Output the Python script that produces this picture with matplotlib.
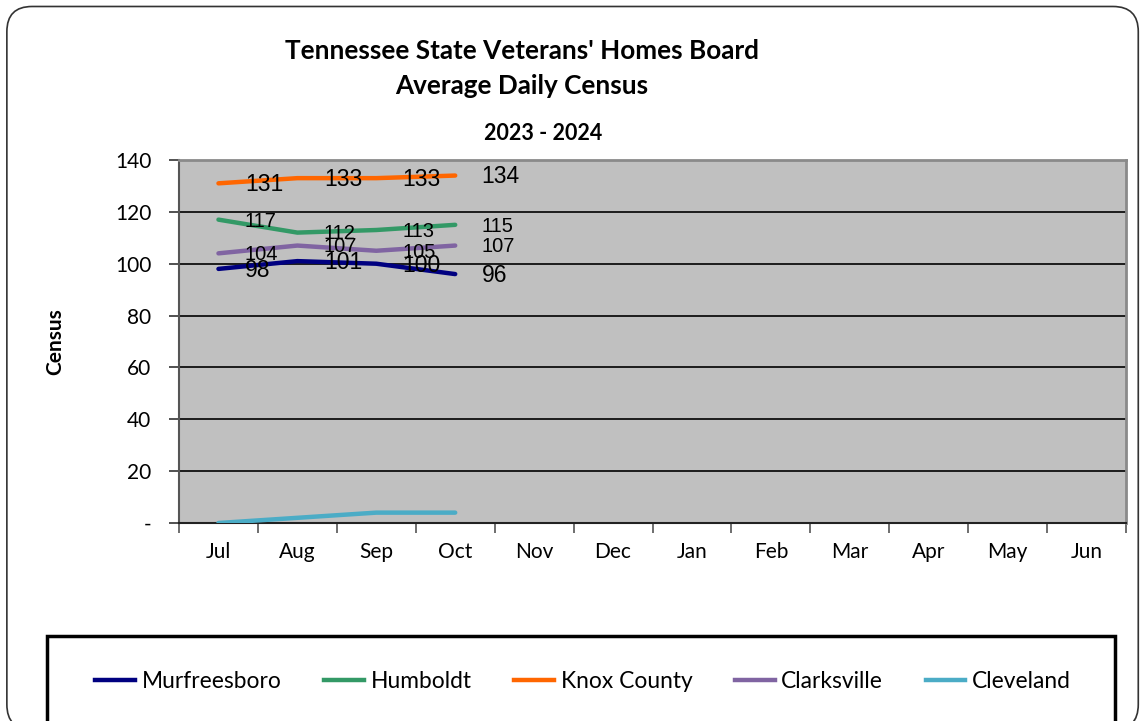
import matplotlib
matplotlib.use("Agg")
import matplotlib.pyplot as plt
from matplotlib.patches import FancyBboxPatch, Rectangle
from matplotlib.lines import Line2D

# data
months = ['Jul', 'Aug', 'Sep', 'Oct', 'Nov', 'Dec', 'Jan', 'Feb', 'Mar', 'Apr', 'May', 'Jun']
series_names = ['Murfreesboro', 'Humboldt', 'Knox County', 'Clarksville', 'Cleveland']
murfreesboro = [98, 101, 100, 96]
humboldt = [117, 112, 113, 115]
knox_county = [131, 133, 133, 134]
clarksville = [104, 107, 105, 107]
cleveland = [0, 2, 4, 4]
yticks = [0, 20, 40, 60, 80, 100, 120, 140]
ytick_labels = ['-', '20', '40', '60', '80', '100', '120', '140']

colors = ['#000080', '#339966', '#FF6600', '#8064A2', '#4BACC6']
all_series = [murfreesboro, humboldt, knox_county, clarksville, cleveland]
label_sizes = [16.5, 14.5, 16.5, 14.5, None]

ui_font = 'Lato'
num_font = 'Liberation Sans'

fig = plt.figure(figsize=(11.44, 7.21), dpi=100)
fig.patch.set_facecolor('white')

# outer rounded frame with a bit of shadow
shadow = FancyBboxPatch((0.009, -0.02), 0.985, 1.0, boxstyle='round,pad=0,rounding_size=0.022',
                        transform=fig.transFigure, facecolor='#d0d0d0', edgecolor='none',
                        mutation_aspect=1144/721, zorder=-3)
frame = FancyBboxPatch((0.006, -0.012), 0.989, 1.003, boxstyle='round,pad=0,rounding_size=0.022',
                       transform=fig.transFigure, facecolor='white', edgecolor='#333333',
                       linewidth=1.2, mutation_aspect=1144/721, zorder=-2)
fig.patches.extend([shadow, frame])

ax = fig.add_axes([179/1144, 1 - 523/721, (1126-179)/1144, (523-160)/721])
ax.set_zorder(2)
ax.set_facecolor('#C0C0C0')

x = list(range(len(months)))
for name, vals, c, fs in zip(series_names, all_series, colors, label_sizes):
    ax.plot(x[:len(vals)], vals, color=c, linewidth=3.2, solid_capstyle='round', label=name, zorder=3)
    if fs:
        for i, v in enumerate(vals):
            # labels sit to the right of each point (offset ~26 px)
            ax.annotate(str(v), (i, v), xytext=(19, -1), textcoords='offset points',
                        ha='left', va='center', fontsize=fs, family=num_font, zorder=4,
                        annotation_clip=False)

ax.set_xlim(-0.5, 11.5)
ax.set_ylim(0, 140)
ax.set_yticks(yticks)
ax.set_yticklabels(ytick_labels, fontsize=15, family=ui_font)
ax.yaxis.grid(True, color='black', linewidth=1.2)
ax.set_axisbelow(True)

ax.set_xticks(x)
ax.set_xticklabels(months, fontsize=15, family=ui_font)
ax.set_xticks([i - 0.5 for i in range(13)], minor=True)
ax.tick_params(axis='x', which='major', length=0, pad=14)
ax.tick_params(axis='x', which='minor', length=7, width=1.2, color='#555555')
ax.tick_params(axis='y', length=7, width=1.2, color='#333333', pad=13)

ax.spines['left'].set_color('#555555')
ax.spines['left'].set_linewidth(1.5)
ax.spines['bottom'].set_color('#222222')
ax.spines['bottom'].set_linewidth(1.5)
ax.spines['top'].set_color('#8a8a8a')
ax.spines['top'].set_linewidth(2)
ax.spines['right'].set_color('#8a8a8a')
ax.spines['right'].set_linewidth(2)

ax.set_ylabel('Census', fontsize=15, fontweight='bold', family=ui_font, labelpad=36)

fig.text(522/1144, 1 - 51/721, "Tennessee State Veterans' Homes Board", ha='center', va='center',
         fontsize=18.8, fontweight='bold', family=ui_font)
fig.text(522/1144, 1 - 86/721, "Average Daily Census", ha='center', va='center',
         fontsize=18.8, fontweight='bold', family=ui_font)
fig.text(543/1144, 1 - 134/721, "2023 - 2024", ha='center', va='center',
         fontsize=15.5, fontweight='bold', family=ui_font)

# legend box
box = Rectangle((47/1144, -0.05), (1115-47)/1144, 0.05 + (721-636)/721, transform=fig.transFigure,
                facecolor='white', edgecolor='black', linewidth=2.5, zorder=1)
fig.patches.append(box)
handles = [Line2D([], [], color=c, linewidth=3.2) for c in colors]
leg = fig.legend(handles, series_names, loc='center', bbox_to_anchor=(583/1144, 1 - 681/721),
                 ncol=5, frameon=False, handlelength=1.75, handletextpad=0.3, columnspacing=1.86,
                 prop={'family': ui_font, 'size': 16.4})

fig.savefig('out.png', dpi=100)
